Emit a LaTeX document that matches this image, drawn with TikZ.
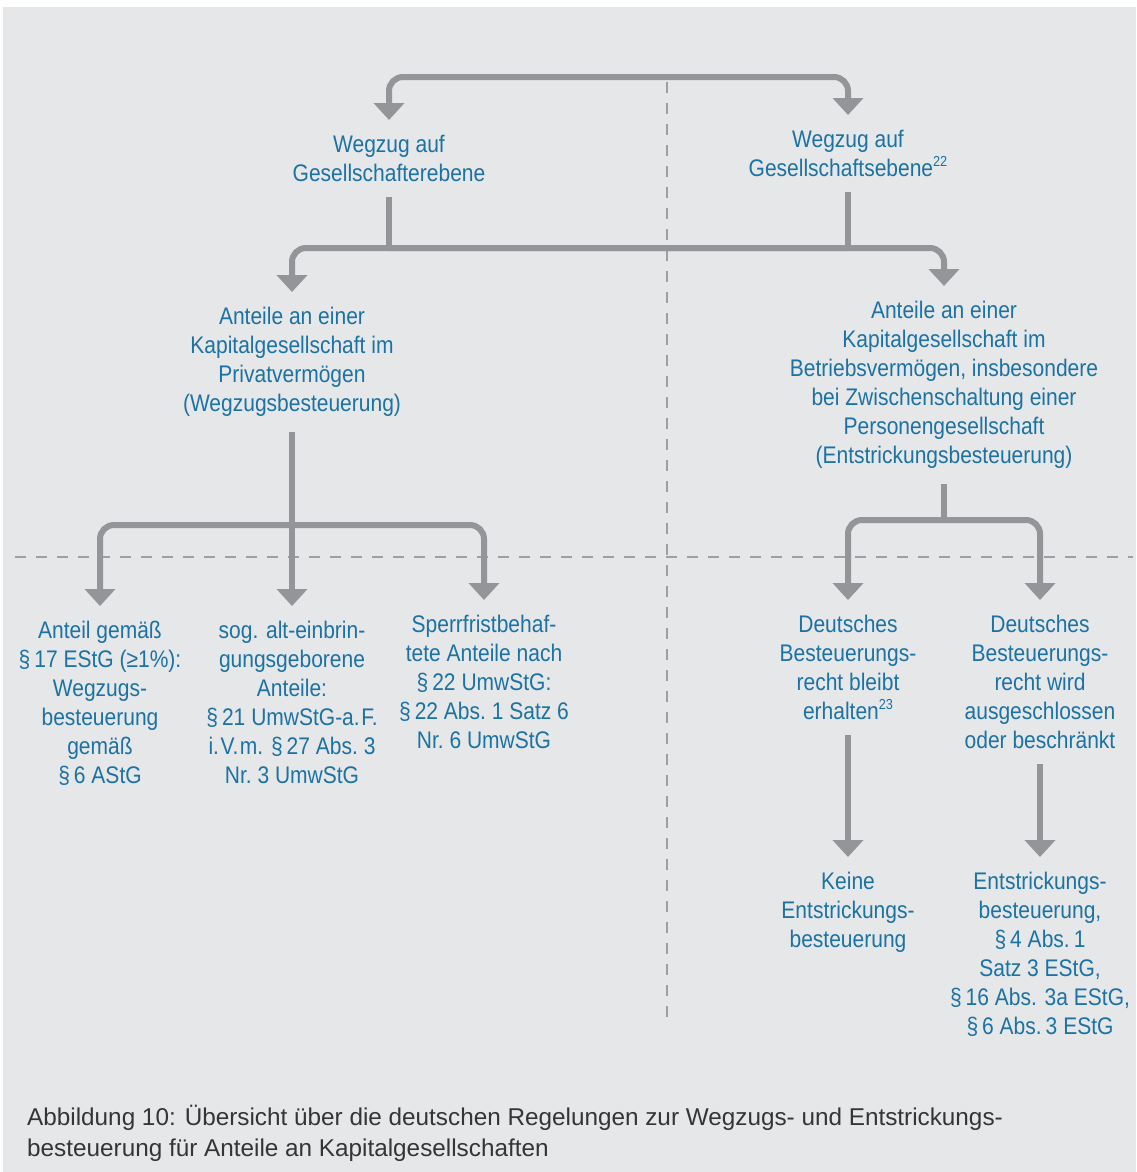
\documentclass[tikz,border=0pt]{standalone}
\usepackage{fontspec}
\usetikzlibrary{arrows.meta}
\newfontfamily\diagf[FakeStretch=0.875]{Liberation Sans}
\newfontfamily\capf{Liberation Sans}
\definecolor{bgc}{HTML}{E6E7E8}
\definecolor{txtblue}{HTML}{1B72A3}
\definecolor{linegray}{HTML}{939598}
\definecolor{dashgray}{HTML}{9D9FA2}
\definecolor{captxt}{HTML}{353535}
\newcommand{\fnm}[1]{\raisebox{0.42em}{\fontsize{14.5}{14.5}\selectfont #1}}
\newcommand{\tk}{\kern1.5pt}
\tikzset{
  lbl/.style={font={\diagf\fontsize{24}{29}\selectfont}, text=txtblue, align=center, anchor=north, inner xsep=0pt, inner ysep=15pt},
  conn/.style={draw=linegray, line width=6pt, rounded corners=14pt},
  arr/.style={-{Triangle[width=30pt,length=17pt]}},
  sepline/.style={draw=dashgray, line width=2.6pt, dash pattern=on 11pt off 10pt}
}
\begin{document}
\begin{tikzpicture}[x=1pt,y=-1pt]
\useasboundingbox (0,0) rectangle (1136,1172);
\fill[white] (0,0) rectangle (1136,1172);
\fill[bgc] (3,7) rectangle (1136,1172);

% separators
\draw[sepline] (667,82) -- (667,1018);
\draw[sepline] (15,557) -- (1133,557);

% nodes
\node[lbl] (wl) at (389,120) {Wegzug auf\\Gesellschafterebene};
\node[lbl] (wr) at (848,115) {Wegzug auf\\Gesellschaftsebene\fnm{22}};
\node[lbl] (al) at (292,292) {Anteile an einer\\Kapitalgesellschaft im\\Privatvermögen\\(Wegzugsbesteuerung)};
\node[lbl] (ar) at (944,286) {Anteile an einer\\Kapitalgesellschaft im\\Betriebsvermögen, insbesondere\\bei Zwischenschaltung einer\\Personengesellschaft\\(Entstrickungsbesteuerung)};
\node[lbl] (b1) at (100,606) {Anteil gemäß\\§\,17 EStG (≥1\%):\\Wegzugs-\\besteuerung\\gemäß\\§\,6 AStG};
\node[lbl] (b2) at (292,606) {sog. alt-einbrin-\\gungsgeborene\\Anteile:\\§\,21 UmwStG-a.\tk F.\\i.\tk V.\tk m. §\,27 Abs.~3\\Nr.~3 UmwStG};
\node[lbl] (b3) at (484,600) {Sperrfristbehaf-\\tete Anteile nach\\§\,22 UmwStG:\\§\,22 Abs.~1 Satz~6\\Nr.~6 UmwStG};
\node[lbl] (b4) at (848,600) {Deutsches\\Besteuerungs-\\recht bleibt\\erhalten\fnm{23}};
\node[lbl] (b5) at (1040,600) {Deutsches\\Besteuerungs-\\recht wird\\ausgeschlossen\\oder beschränkt};
\node[lbl] (c1) at (848,857) {Keine\\Entstrickungs-\\besteuerung};
\node[lbl] (c2) at (1040,857) {Entstrickungs-\\besteuerung,\\§\,4 Abs.\,1\\Satz 3 EStG,\\§\,16 Abs. 3a EStG,\\§\,6 Abs.\,3 EStG};

% junction coordinates
\coordinate (top) at (618,77);
\coordinate (j1) at (389,248);
\coordinate (j2) at (848,248);
\coordinate (j3) at (292,525);
\coordinate (j4) at (944,520);

% connectors
\draw[conn,arr] (top) -| (wl.north);
\draw[conn,arr] (top) -| (wr.north);
\draw[conn] (wl.south) -- (j1);
\draw[conn] (wr.south) -- (j2);
\draw[conn,arr] (j2) -| (al.north);
\draw[conn,arr] (j1) -| (ar.north);
\draw[conn,arr] (al.south) -- (b2.north);
\draw[conn,arr] (j3) -| (b1.north);
\draw[conn,arr] (j3) -| (b3.north);
\draw[conn] (ar.south) -- (j4);
\draw[conn,arr] (j4) -| (b4.north);
\draw[conn,arr] (j4) -| (b5.north);
\draw[conn,arr] (b4.south) -- (c1.north);
\draw[conn,arr] (b5.south) -- (c2.north);

% caption
\node[font={\capf\fontsize{24.3}{31}\selectfont}, text=captxt, align=left, anchor=north west, inner sep=0pt] (cap) at (27,1105)
  {Abbildung 10: Übersicht über die deutschen Regelungen zur Wegzugs- und Entstrickungs-\\besteuerung für Anteile an Kapitalgesellschaften};
\end{tikzpicture}
\end{document}
